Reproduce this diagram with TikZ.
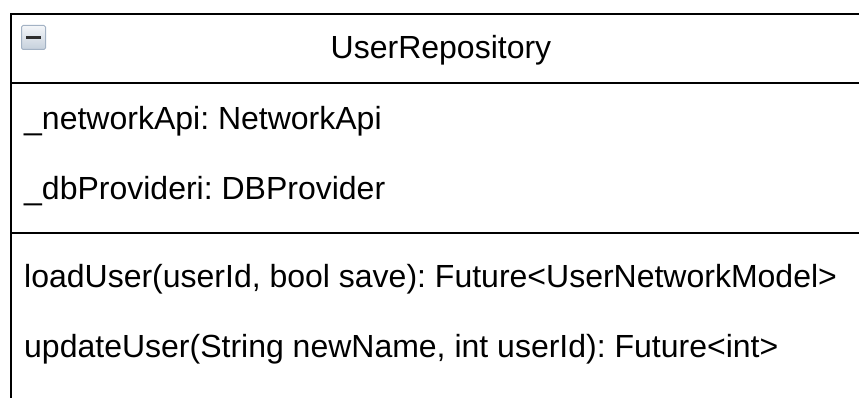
\documentclass[tikz,border=0pt]{standalone}
\usepackage{fontspec}
\setmainfont{Liberation Sans}
\frenchspacing
\definecolor{iconborder}{HTML}{A3B2C4}
\definecolor{icontop}{HTML}{F4F6F9}
\definecolor{iconbottom}{HTML}{C5D0DC}
\definecolor{minusgray}{HTML}{2E2E2E}
\begin{document}
\begin{tikzpicture}[x=1pt,y=-1pt,
  boxline/.style={draw=black,line width=2.2pt},
  rowtext/.style={anchor=base west,inner sep=0pt,font=\fontsize{32}{38}\selectfont},
  titletext/.style={anchor=base,inner sep=0pt,font=\fontsize{32}{38}\selectfont},
]
\useasboundingbox (0,0) rectangle (859,398);
\begin{scope}
\clip (0,0) rectangle (859,398);
\node (box) [boxline, anchor=north west, minimum width=862pt, minimum height=420pt, inner sep=0pt] at (10,13) {};
\coordinate (h1) at (10,83);
\coordinate (h2) at (872,83);
\coordinate (s1) at (10,233);
\coordinate (s2) at (872,233);
\draw[boxline] (h1) -- (h2);
\draw[boxline] (s1) -- (s2);
\end{scope}
\node (icon) [anchor=north west, minimum size=24pt, inner sep=0pt, draw=iconborder, line width=1pt, top color=icontop, bottom color=iconbottom, rounded corners=1.5pt] at (21,25) {};
\draw[minusgray, line width=3.2pt] ([xshift=5pt]icon.west) -- ([xshift=-5pt]icon.east);
\node (title) [titletext] at (441,59) {UserRepository};
\node (a1) [rowtext] at (24,130) {\_networkApi: NetworkApi};
\node (a2) [rowtext] at (24,200) {\_dbProvideri: DBProvider};
\node (m1) [rowtext] at (24,287) {loadUser(userId, bool save): Future<UserNetworkModel>};
\node (m2) [rowtext] at (24,357) {updateUser(String newName, int userId): Future<int>};
\end{tikzpicture}
\end{document}
